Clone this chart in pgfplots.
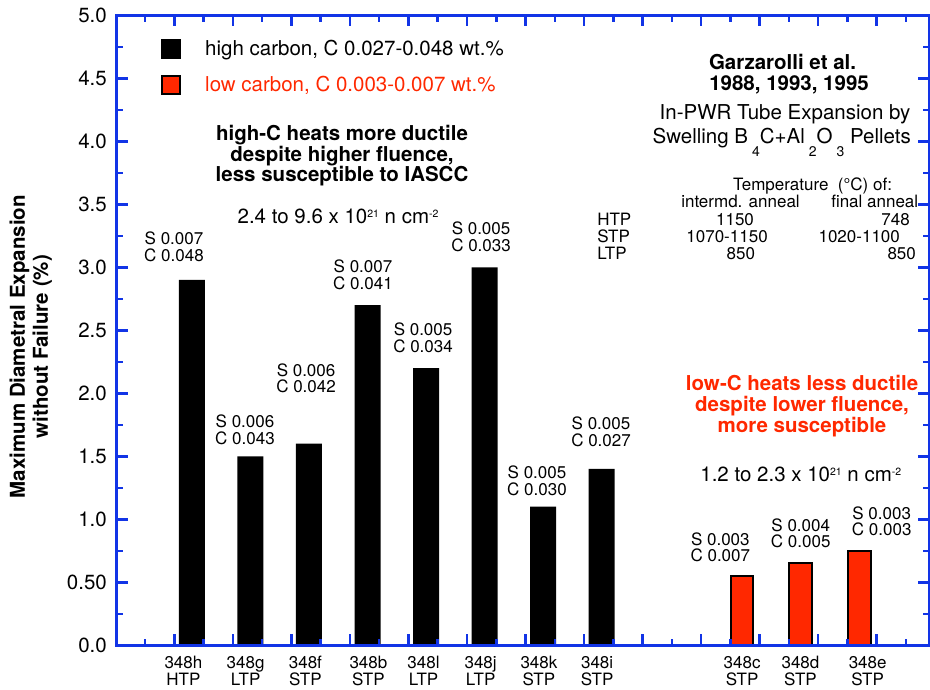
\documentclass[border=0pt]{standalone}
\usepackage{pgfplots}
\pgfplotsset{compat=1.18}
\usepackage{fontspec}
\setmainfont{TeX Gyre Heros}
\definecolor{axblue}{RGB}{18,52,230}
\definecolor{myred}{RGB}{255,40,0}
\newcommand{\fbig}{\fontsize{20.5}{21.5}\selectfont}
\newcommand{\fsmall}{\fontsize{17}{16.5}\selectfont}
\newcommand{\fsup}{\fontsize{10.5}{10.5}\selectfont}
\newcommand{\fsub}{\fontsize{14}{14}\selectfont}
\newcommand{\sups}[1]{\raisebox{6.5pt}{\fsup #1}}
\newcommand{\subs}[1]{\hspace{4pt}\raisebox{-13pt}{\fsub #1}}
\pgfplotsset{
  sqlegend/.style={legend image code/.code={\fill[black,draw=none] (0pt,-8pt) rectangle (20pt,12pt); \path[draw=none,fill=none] (0pt,0pt) rectangle (44pt,0.1pt);}},
  sqlegendred/.style={legend image code/.code={\draw[fill=myred,draw=black,line width=2pt] (1pt,-7pt) rectangle (19pt,11pt); \path[draw=none,fill=none] (0pt,0pt) rectangle (44pt,0.1pt);}},
}
\newcommand{\SC}[4]{\node[font=\fsmall, inner sep=0pt, anchor=south, align=center] at (axis cs:#1,#2) {S #3\\C #4};}
\begin{document}
\begin{tikzpicture}
\useasboundingbox (0pt,0pt) rectangle (930pt,689pt);
\begin{axis}[
  at={(117pt,43.7pt)}, anchor=south west,
  scale only axis, width=812.4pt, height=630pt,
  xmin=0.02, xmax=13.9, ymin=0, ymax=5,
  axis on top,
  axis line style={axblue, line width=3pt},
  tick style={axblue, line width=2.5pt},
  major tick length=11pt, minor tick length=6.5pt,
  xtick={1,2,3,4,5,6,7,8,9,10,11,12,13},
  xticklabels={},
  minor xtick={0.5,1.5,2.5,3.5,4.5,5.5,6.5,7.5,8.5,9.5,10.5,11.5,12.5,13.5},
  extra x ticks={1.155,2.218,3.239,4.316,5.257,6.233,7.229,8.223,10.700,11.697,12.845},
  extra x tick labels={{348h\\HTP},{348g\\LTP},{348f\\STP},{348b\\STP},{348l\\LTP},{348j\\LTP},{348k\\STP},{348i\\STP},{348c\\STP},{348d\\STP},{348e\\STP}},
  extra x tick style={tick style={draw=none}},
  xticklabel style={align=center, font=\fsmall, inner sep=0pt, anchor=north, yshift=-11pt},
  ytick={0,0.5,1,1.5,2,2.5,3,3.5,4,4.5,5},
  yticklabels={0.0,0.50,1.0,1.5,2.0,2.5,3.0,3.5,4.0,4.5,5.0},
  minor ytick={0.25,0.75,1.25,1.75,2.25,2.75,3.25,3.75,4.25,4.75},
  yticklabel style={font=\fbig, inner sep=0pt, anchor=east, xshift=-10pt},
  ylabel={Maximum Diametral Expansion\\without Failure (\%)},
  ylabel style={at={(axis description cs:-0.106,0.474)}, anchor=center, inner sep=0pt, align=center, font=\fontsize{20.5}{23}\selectfont\bfseries},
  legend style={draw=none, fill=none, at={(axis cs:0.772,4.817)}, anchor=north west, inner sep=0pt, row sep=14pt, font=\fontsize{20.5}{21}\selectfont, nodes={inner sep=0pt, text height=15pt, text depth=5pt}},
  legend cell align=left,
]
\addplot[ybar, bar shift=0pt, bar width=0.444, fill=black, draw=none, sqlegend] coordinates {(1.3,2.9) (2.3,1.5) (3.3,1.6) (4.3,2.7) (5.3,2.2) (6.3,3.0) (7.3,1.1) (8.3,1.4)};
\addlegendentry{high carbon, C 0.027-0.048 wt.\%}
\addplot[ybar, bar shift=0pt, bar width=0.388, fill=myred, draw=black, line width=2pt, sqlegendred] coordinates {(10.7,0.55) (11.7,0.65) (12.7,0.75)};
\addlegendentry{\textcolor{myred}{low carbon, C 0.003-0.007 wt.\%}}

\SC{0.994}{3.044}{0.007}{0.048}
\SC{2.207}{1.590}{0.006}{0.043}
\SC{3.250}{2.002}{0.006}{0.042}
\SC{4.223}{2.820}{0.007}{0.041}
\SC{5.249}{2.320}{0.005}{0.034}
\SC{6.240}{3.124}{0.005}{0.033}
\SC{7.196}{1.185}{0.005}{0.030}
\SC{8.290}{1.574}{0.005}{0.027}
\SC{10.328}{0.660}{0.003}{0.007}
\SC{11.702}{0.770}{0.004}{0.005}
\SC{13.085}{0.867}{0.003}{0.003}

\node[font=\fbig\bfseries, inner sep=0pt, anchor=base] at (axis cs:3.865,4.010) {high-C heats more ductile};
\node[font=\fbig\bfseries, inner sep=0pt, anchor=base] at (axis cs:3.865,3.840) {despite higher fluence,};
\node[font=\fbig\bfseries, inner sep=0pt, anchor=base] at (axis cs:3.865,3.677) {less susceptible to IASCC};
\node[font=\fbig, inner sep=0pt, anchor=base] at (axis cs:3.797,3.344) {2.4 to 9.6 x 10\sups{21} n cm\sups{-2}};

\node[font=\fbig\bfseries, inner sep=0pt, anchor=base] at (axis cs:11.391,4.566) {Garzarolli et al.};
\node[font=\fbig\bfseries, inner sep=0pt, anchor=base] at (axis cs:11.502,4.407) {1988, 1993, 1995};
\node[font=\fbig, inner sep=0pt, anchor=base] at (axis cs:11.434,4.173) {In-PWR Tube Expansion by};
\node[font=\fbig, inner sep=0pt, anchor=base] at (axis cs:11.377,3.984) {Swelling B\subs{4}C+Al\subs{2}O\subs{3} Pellets};

\node[font=\fsmall, inner sep=0pt, anchor=base] at (axis cs:11.903,3.613) {Temperature\ \ (°C) of:};
\node[font=\fsmall, inner sep=0pt, anchor=base] at (axis cs:10.673,3.475) {intermd. anneal};
\node[font=\fsmall, inner sep=0pt, anchor=base] at (axis cs:12.966,3.475) {final anneal};
\node[font=\fsmall, inner sep=0pt, anchor=base west] at (axis cs:8.222,3.328) {HTP};
\node[font=\fsmall, inner sep=0pt, anchor=base] at (axis cs:10.579,3.328) {1150};
\node[font=\fsmall, inner sep=0pt, anchor=base east] at (axis cs:13.569,3.328) {748};
\node[font=\fsmall, inner sep=0pt, anchor=base west] at (axis cs:8.222,3.195) {STP};
\node[font=\fsmall, inner sep=0pt, anchor=base] at (axis cs:10.443,3.195) {1070-1150};
\node[font=\fsmall, inner sep=0pt, anchor=base] at (axis cs:12.701,3.195) {1020-1100};
\node[font=\fsmall, inner sep=0pt, anchor=base west] at (axis cs:8.222,3.058) {LTP};
\node[font=\fsmall, inner sep=0pt, anchor=base] at (axis cs:10.678,3.058) {850};
\node[font=\fsmall, inner sep=0pt, anchor=base east] at (axis cs:13.672,3.058) {850};

\node[font=\fbig\bfseries, text=myred, inner sep=0pt, anchor=base] at (axis cs:11.724,2.026) {low-C heats less ductile};
\node[font=\fbig\bfseries, text=myred, inner sep=0pt, anchor=base] at (axis cs:11.724,1.856) {despite lower fluence,};
\node[font=\fbig\bfseries, text=myred, inner sep=0pt, anchor=base] at (axis cs:11.724,1.685) {more susceptible};
\node[font=\fbig, inner sep=0pt, anchor=base] at (axis cs:11.703,1.298) {1.2 to 2.3 x 10\sups{21} n cm\sups{-2}};
\end{axis}
\end{tikzpicture}
\end{document}
